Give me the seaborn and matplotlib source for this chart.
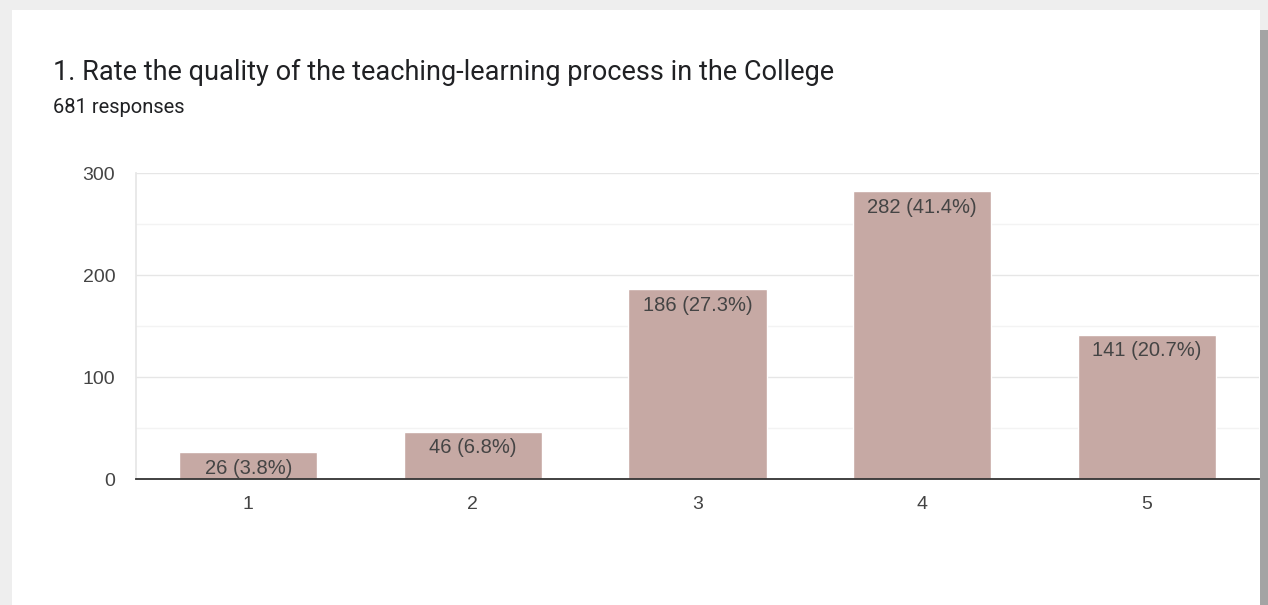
import matplotlib
matplotlib.use("Agg")
import matplotlib.pyplot as plt
import seaborn as sns
import pandas as pd
from matplotlib.patches import Rectangle
from matplotlib.ticker import MultipleLocator

categories = ["1", "2", "3", "4", "5"]
counts = [26, 46, 186, 282, 141]
percents = [3.8, 6.8, 27.3, 41.4, 20.7]
title = "1. Rate the quality of the teaching-learning process in the College"
subtitle = "681 responses"

df = pd.DataFrame({"rating": categories, "count": counts})

sns.set_theme(style="white")
plt.rcParams["font.family"] = ["Liberation Sans", "DejaVu Sans"]

W, H = 1268, 605
fig = plt.figure(figsize=(W / 100, H / 100), dpi=100)
fig.patch.set_facecolor("#eeeeee")

# card background
fig.patches.append(Rectangle((12 / W, 0), (1260 - 12) / W, 1 - 10 / H,
                             transform=fig.transFigure, facecolor="white",
                             edgecolor="none", zorder=-5))
# scrollbar
fig.patches.append(Rectangle((1260 / W, 0), 8 / W, 1 - 30 / H,
                             transform=fig.transFigure, facecolor="#a4a4a4",
                             edgecolor="none", zorder=-5))

ax = fig.add_axes([136 / W, 1 - 479 / H, (1259 - 136) / W, (479 - 173) / H])
ax.set_zorder(5)
ax.set_facecolor("none")

sns.barplot(data=df, x="rating", y="count", color="#c6a9a4", width=0.616,
            saturation=1, ax=ax, zorder=2)

ax.set_xlim(-0.5, 4.5)
ax.set_ylim(0, 300)
ax.yaxis.set_major_locator(MultipleLocator(100))
ax.yaxis.set_minor_locator(MultipleLocator(50))
ax.grid(True, axis="y", which="major", color="#e6e6e6", linewidth=1, zorder=0)
ax.grid(True, axis="y", which="minor", color="#f3f3f3", linewidth=1, zorder=0)
ax.set_axisbelow(True)
for s in ["top", "right"]:
    ax.spines[s].set_visible(False)
ax.spines["left"].set_color("#e6e6e6")
ax.spines["bottom"].set_color("#333333")
ax.spines["bottom"].set_linewidth(1.3)
ax.spines["bottom"].set_zorder(3)
ax.tick_params(axis="both", which="both", length=0, labelsize=14,
               labelcolor="#444444")
ax.tick_params(axis="y", pad=15)
ax.tick_params(axis="x", pad=12)
ax.set_xlabel("")
ax.set_ylabel("")

for i, (c, p) in enumerate(zip(counts, percents)):
    ax.annotate(f"{c} ({p}%)", xy=(i, c), xytext=(0, -4.5),
                textcoords="offset points", ha="center", va="top",
                fontsize=14.5, color="#444444", zorder=4)

fig.text(53 / W, 1 - 72 / H, title, fontsize=19.5, color="#202124",
         family=["Roboto", "DejaVu Sans"], va="center", ha="left")
fig.text(53 / W, 1 - 108 / H, subtitle, fontsize=14.5, color="#202124",
         family=["Roboto", "DejaVu Sans"], va="center", ha="left")

fig.savefig("out.png", dpi=100, facecolor=fig.get_facecolor())
